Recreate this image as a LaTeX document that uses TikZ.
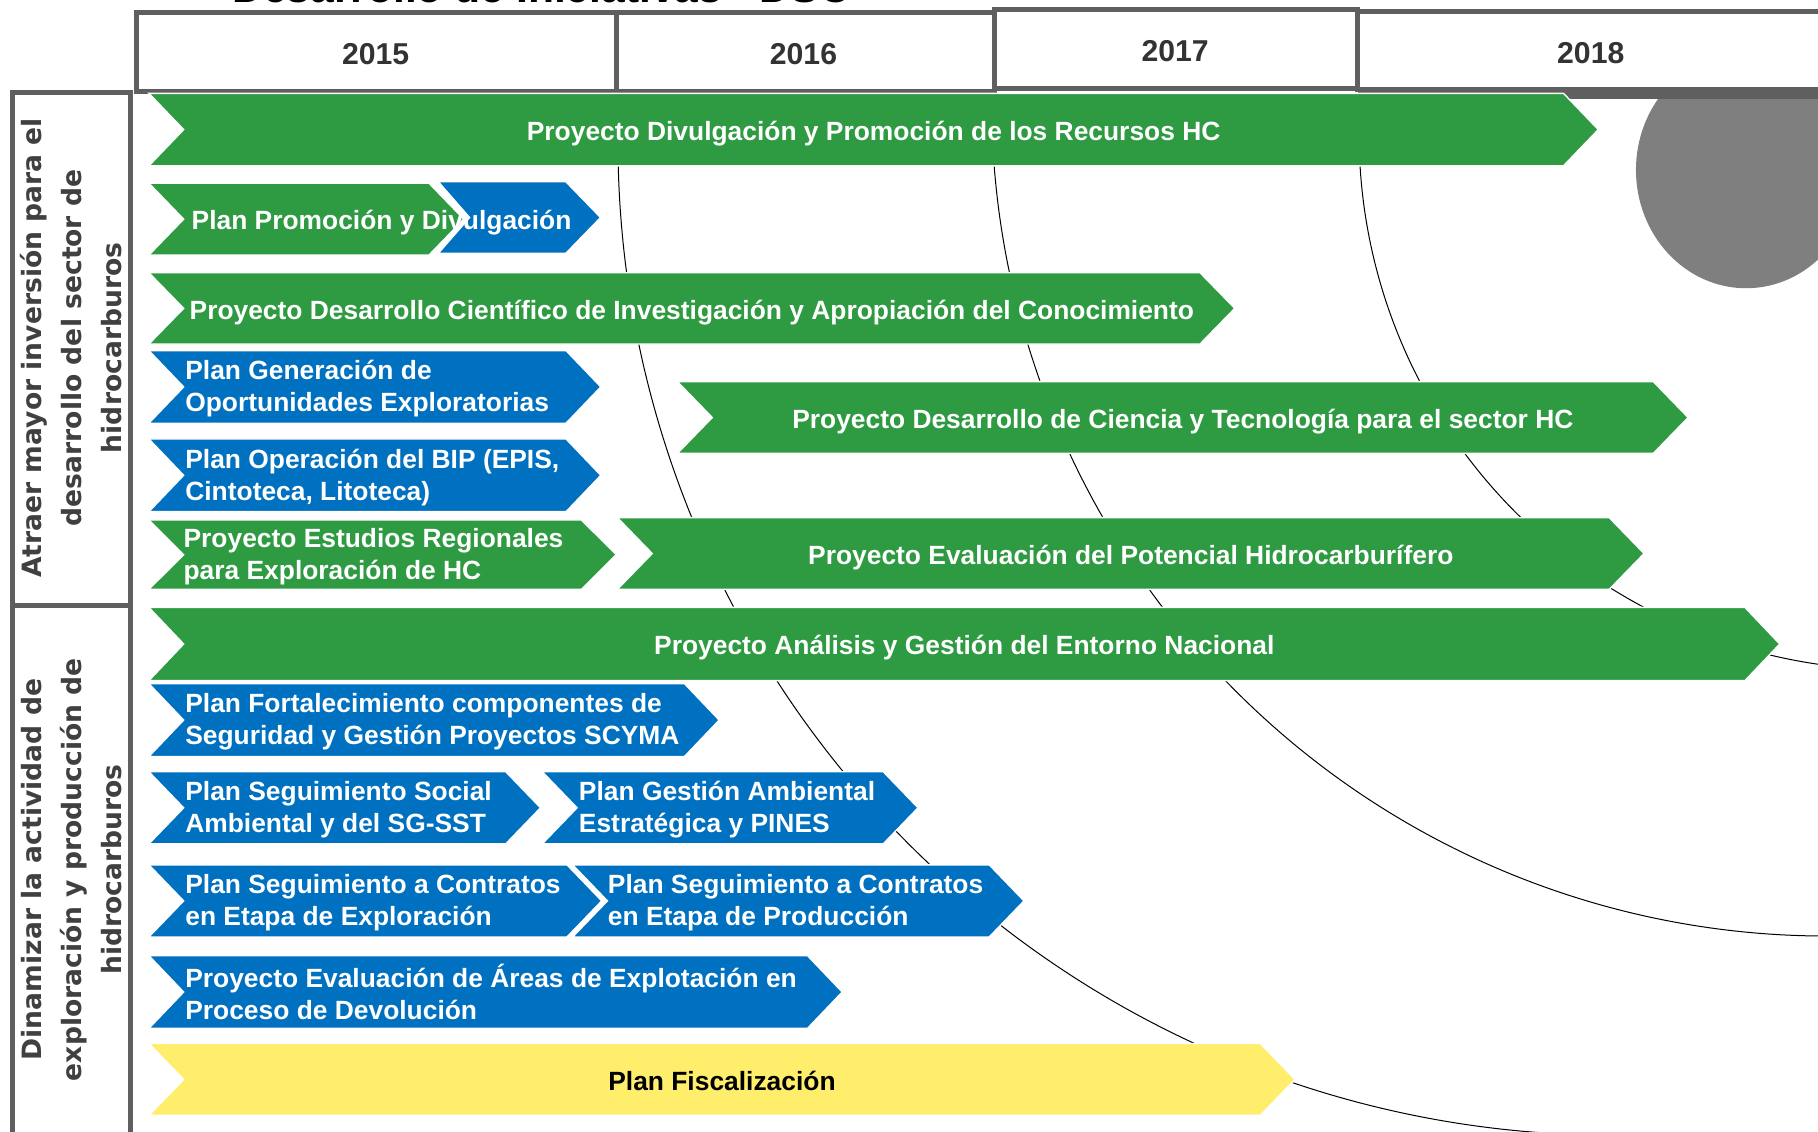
\documentclass[tikz,border=0pt]{standalone}
\usepackage{fontspec}
\setmainfont{Liberation Sans}
\newfontfamily\labelfont{DejaVu Sans}
\definecolor{barG}{HTML}{2E9A41}
\definecolor{barB}{HTML}{0070C0}
\definecolor{barY}{HTML}{FFEE6B}
\definecolor{frameG}{HTML}{5F5F5F}
\definecolor{discG}{HTML}{7F7F7F}
\definecolor{yearT}{HTML}{333333}
\definecolor{labT}{HTML}{404040}
\newcommand{\chevbar}[5]{\path[barshape,fill=#1] (#2,#4) -- ({#3-30},#4) -- (#3,{(#4+#5)/2}) -- ({#3-30},#5) -- (#2,#5) -- ({#2+30},{(#4+#5)/2}) -- cycle;}
\begin{document}
\begin{tikzpicture}[x=0.58pt,y=-0.58pt,
  barshape/.style={draw=white, line width=0.7pt},
  bartext/.style={text=white, font=\fontsize{13.2}{16}\selectfont\bfseries, inner sep=0pt, execute at begin node=\strut, yshift=-2.1pt},
  frame/.style={draw=frameG, line width=2.5pt, fill=white},
  yeartext/.style={text=yearT, font=\fontsize{15.1}{18}\selectfont\bfseries, anchor=base, inner sep=0pt},
  goaltext/.style={text=labT, font=\fontsize{13.3}{20}\selectfont\labelfont\bfseries, align=center, rotate=90, inner sep=0pt},
  arcline/.style={draw=black, line width=0.5pt}]
\useasboundingbox (0,0) rectangle (1568,975.5);

% title (cut off at the top)
\node[anchor=base west, inner sep=0pt, font=\fontsize{21.3}{25}\selectfont\bfseries] (title) at (200,1.8) {Desarrollo de Iniciativas - DSC};

% grey disc
\fill[discG] (1506,146.6) ellipse [x radius=95, y radius=102];

% thin arcs (quarter arcs from the left point down to the bottom point)
\begin{scope}
\clip (118,80) rectangle (1568,975.5);
\draw[arcline] (1389.8,122.3) ++(190:856.8) arc [start angle=190, end angle=90, radius=856.8];
\draw[arcline] (1575.3,87.3) ++(190:720) arc [start angle=190, end angle=90, radius=720];
\draw[arcline] (1634.5,115.4) ++(190:462.3) arc [start angle=190, end angle=90, radius=462.3];
\end{scope}

% header
\fill[frameG] (1171,76) rectangle (1580,85);
\draw[frame] (118,10.8) rectangle (531.5,78.5);
\draw[frame] (531.5,10.8) rectangle (857.5,78.5);
\draw[frame] (1170.5,10.3) rectangle (1585,77);
\draw[frame] (857.5,8.6) rectangle (1170.5,76.5);
\node[yeartext] (y15) at (324,56) {2015};
\node[yeartext] (y16) at (693,56) {2016};
\node[yeartext] (y17) at (1013.6,53) {2017};
\node[yeartext] (y18) at (1372,54.6) {2018};

% left goal boxes
\draw[frame] (10.8,80) rectangle (112.2,522);
\draw[frame] (10.8,522) rectangle (112.2,990);
\node[goaltext] (g1) at (61.5,300) {Atraer mayor inversión para el\\desarrollo del sector de\\hidrocarburos};
\node[goaltext] (g2) at (61.5,750) {Dinamizar la actividad de\\exploración y producción de\\hidrocarburos};

% bars
\chevbar{barG}{128.4}{1378.5}{80.5}{143}
\path[barshape,fill=barB] (378,156.7) -- (488,156.7) -- (518,187.6) -- (488,218.5) -- (378,218.5) -- (405,187.6) -- cycle;
\chevbar{barG}{128.4}{400}{158}{220}
\chevbar{barG}{128.4}{1065}{235.2}{296.7}
\chevbar{barB}{128.4}{518.2}{302.4}{365}
\chevbar{barB}{128.4}{518.2}{378.6}{441.3}
\chevbar{barG}{128.4}{531.5}{448.5}{508.3}
\chevbar{barG}{584.3}{1456}{329.2}{391}
\chevbar{barG}{532.5}{1418}{446.5}{508.3}
\chevbar{barG}{128.4}{1535}{523.9}{587}
\chevbar{barB}{128.4}{620.3}{589.6}{652.5}
\chevbar{barB}{128.4}{466.2}{665.6}{727.8}
\chevbar{barB}{467.7}{791.8}{665.6}{727.8}
\chevbar{barB}{128.4}{519}{745.9}{808.1}
\chevbar{barB}{493.9}{883.2}{745.9}{808.1}
\chevbar{barB}{128.4}{726.4}{824.2}{887}
\chevbar{barY}{128.4}{1117}{900}{962}

% bar texts
\node[bartext] (t1) at (753.5,111.75) {Proyecto Divulgación y Promoción de los Recursos HC};
\node[bartext,anchor=west] (t2) at (165,188.5) {Plan Promoción y Divulgación};
\node[bartext] (t3) at (596.7,266) {Proyecto Desarrollo Científico de Investigación y Apropiación del Conocimiento};
\node[bartext,anchor=west,align=left] (t4) at (159.5,333.7) {Plan Generación de\\\strut Oportunidades Exploratorias};
\node[bartext,anchor=west,align=left] (t5) at (159.5,410) {Plan Operación del BIP (EPIS,\\\strut Cintoteca, Litoteca)};
\node[bartext,anchor=west,align=left] (t6) at (158,478.4) {Proyecto Estudios Regionales\\\strut para Exploración de HC};
\node[bartext] (t7) at (1020.2,360.1) {Proyecto Desarrollo de Ciencia y Tecnología para el sector HC};
\node[bartext] (t8) at (975.3,477.4) {Proyecto Evaluación del Potencial Hidrocarburífero};
\node[bartext] (t9) at (831.7,555.5) {Proyecto Análisis y Gestión del Entorno Nacional};
\node[bartext,anchor=west,align=left] (t10) at (159.5,621) {Plan Fortalecimiento componentes de\\\strut Seguridad y Gestión Proyectos SCYMA};
\node[bartext,anchor=west,align=left] (t11) at (159.5,696.7) {Plan Seguimiento Social\\\strut Ambiental y del SG-SST};
\node[bartext,anchor=west,align=left] (t12) at (499,696.7) {Plan Gestión Ambiental\\\strut Estratégica y PINES};
\node[bartext,anchor=west,align=left] (t13) at (159.5,777) {Plan Seguimiento a Contratos\\\strut en Etapa de Exploración};
\node[bartext,anchor=west,align=left] (t14) at (524,777) {Plan Seguimiento a Contratos\\\strut en Etapa de Producción};
\node[bartext,anchor=west,align=left] (t15) at (159.5,855.6) {Proyecto Evaluación de Áreas de Explotación en\\\strut Proceso de Devolución};
\node[bartext,text=black] (t16) at (622.7,931) {Plan Fiscalización};
\end{tikzpicture}
\end{document}
